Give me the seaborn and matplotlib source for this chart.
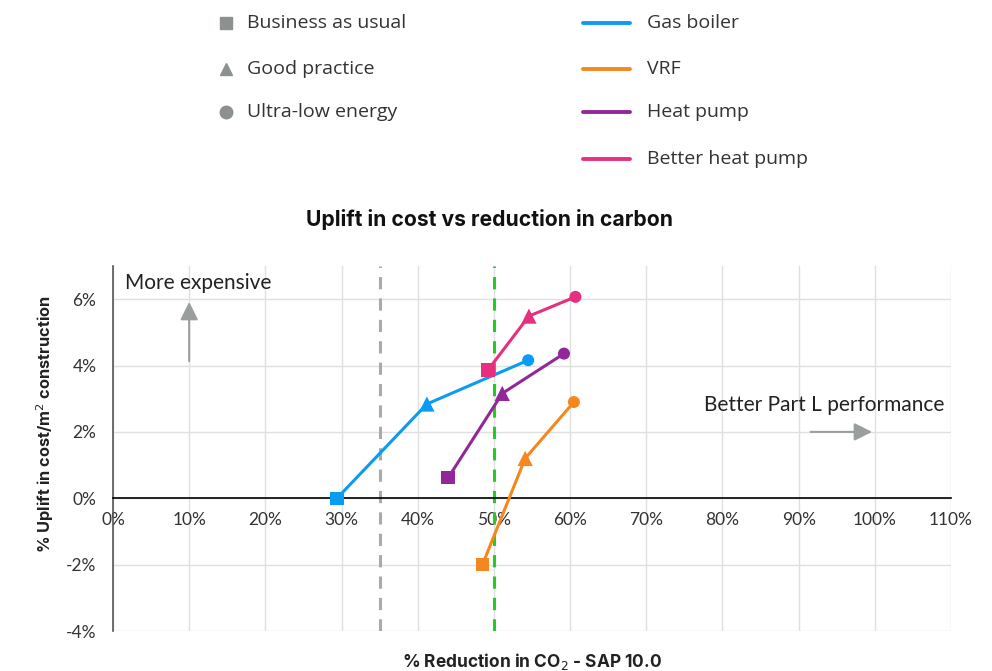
import matplotlib
matplotlib.use("Agg")
import matplotlib.pyplot as plt
from matplotlib.lines import Line2D
import numpy as np
import pandas as pd
import seaborn as sns

# Data: % reduction in CO2 (x) and % uplift in cost (y) per system & fabric level
levels = ["Business as usual", "Good practice", "Ultra-low energy"]
systems = ["Gas boiler", "VRF", "Heat pump", "Better heat pump"]
gas_boiler_x = [29.4, 41.2, 54.5]
gas_boiler_y = [0.0, 2.84, 4.16]
vrf_x = [48.5, 54.1, 60.5]
vrf_y = [-2.0, 1.2, 2.9]
heat_pump_x = [44.0, 51.1, 59.2]
heat_pump_y = [0.62, 3.16, 4.36]
better_hp_x = [49.2, 54.6, 60.7]
better_hp_y = [3.86, 5.49, 6.07]

x_ticks = list(range(0, 111, 10))
y_ticks = [-4, -2, 0, 2, 4, 6]
target_a = 35   # grey dashed reference
target_b = 50   # green dashed reference

colors = {"Gas boiler": "#0A9BF5", "VRF": "#F5871F",
          "Heat pump": "#93279A", "Better heat pump": "#E5307F"}
markers = {"Business as usual": "s", "Good practice": "^", "Ultra-low energy": "o"}
sizes = {"Business as usual": 95, "Good practice": 120, "Ultra-low energy": 75}

xs = [gas_boiler_x, vrf_x, heat_pump_x, better_hp_x]
ys = [gas_boiler_y, vrf_y, heat_pump_y, better_hp_y]
rows = []
for s, xv, yv in zip(systems, xs, ys):
    for lv, a, b in zip(levels, xv, yv):
        rows.append({"system": s, "level": lv, "x": a, "y": b})
df = pd.DataFrame(rows)

sns.set_theme(style="white")
plt.rcParams["font.family"] = ["Lato", "DejaVu Sans"]
bold_font = ["Inter", "DejaVu Sans"]

fig = plt.figure(figsize=(9.92, 6.71), dpi=100)
ax = fig.add_axes([113 / 992, 40 / 671, (951 - 113) / 992, (631 - 266) / 671])

ax.set_xlim(0, 110)
ax.set_ylim(-4, 7)
ax.set_xticks(x_ticks)
ax.set_xticklabels([f"{t}%" for t in x_ticks])
ax.set_yticks(y_ticks)
ax.set_yticklabels([f"{t}%" for t in y_ticks])
ax.grid(True, color="#e0e0e0", linewidth=1)
ax.set_axisbelow(True)

for sp in ["top", "right"]:
    ax.spines[sp].set_visible(False)
ax.spines["bottom"].set_position(("data", 0))
ax.spines["bottom"].set_color("black")
ax.spines["bottom"].set_linewidth(1.2)
ax.spines["left"].set_color("#555555")
ax.spines["left"].set_linewidth(1.2)
ax.tick_params(axis="both", length=0, labelsize=12.5, colors="#333333")
ax.tick_params(axis="x", pad=10)
ax.tick_params(axis="y", pad=12)

ax.axvline(target_a, color="#aaaaaa", linestyle=(0, (4, 3)), linewidth=2.2, zorder=1)
ax.axvline(target_b, color="#22cc22", linestyle=(0, (4, 3)), linewidth=2.2, zorder=1)

sns.lineplot(data=df, x="x", y="y", hue="system", palette=colors, sort=False,
             estimator=None, units="system", linewidth=2.2, legend=False, ax=ax, zorder=3)
for lv in levels:
    sub = df[df["level"] == lv]
    sns.scatterplot(data=sub, x="x", y="y", hue="system", palette=colors,
                    marker=markers[lv], s=sizes[lv], linewidth=0, legend=False,
                    ax=ax, zorder=4)

ax.set_xlabel("")
ax.set_ylabel("")
fig.text(45 / 992, 1 - 424 / 671, "% Uplift in cost/m$^2$ construction", rotation=90,
         ha="center", va="center", fontsize=11.8, fontweight="bold",
         color="#222222", family=bold_font)
fig.text(532 / 992, 1 - 661 / 671, "% Reduction in CO$_2$ - SAP 10.0", ha="center",
         va="center", fontsize=12.5, fontweight="bold", color="#222222",
         family=bold_font)
fig.text(490 / 992, 1 - 220 / 671, "Uplift in cost vs reduction in carbon",
         ha="center", va="center", fontsize=15.2, fontweight="bold",
         color="#111111", family=bold_font)

# Direction annotations
ax.annotate("", xy=(10, 6.0), xytext=(10, 4.05),
            arrowprops=dict(arrowstyle="-|>,head_length=0.9,head_width=0.45",
                            color="#9a9f9c", lw=1.5))
ax.annotate("", xy=(100, 2.0), xytext=(91.2, 2.0),
            arrowprops=dict(arrowstyle="-|>,head_length=0.9,head_width=0.45",
                            color="#9a9f9c", lw=1.5))
ax.text(1.6, 6.5, "More expensive", fontsize=15, color="#222222", va="center")
ax.text(93.3, 2.8, "Better Part L performance", fontsize=15, color="#222222",
        va="center", ha="center")

# Legends placed at the top of the figure
leg_font = ["Open Sans", "DejaVu Sans"]
for i, lv in enumerate(levels):
    yy = 1 - [23, 69, 112][i] / 671
    fig.add_artist(Line2D([226 / 992], [yy], marker=markers[lv], color="#8c918e",
                          markersize=9, linestyle="none", transform=fig.transFigure))
    fig.text(247 / 992, yy, lv, fontsize=14, color="#333333", va="center",
             family=leg_font)
for i, s in enumerate(systems):
    yy = 1 - [23, 69, 112, 159][i] / 671
    fig.add_artist(Line2D([583 / 992, 630 / 992], [yy, yy], color=colors[s],
                          linewidth=2.8, transform=fig.transFigure))
    fig.text(647 / 992, yy, s, fontsize=14, color="#333333", va="center",
             family=leg_font)

fig.savefig("out.png", dpi=100)
